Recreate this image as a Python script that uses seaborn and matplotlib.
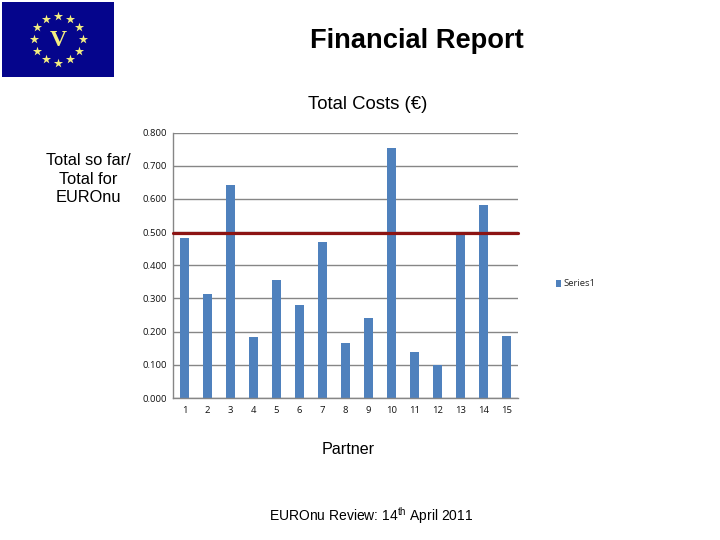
"""Financial report slide: total costs per partner, bar chart with logo and titles."""

import numpy as np
import pandas as pd
import matplotlib
matplotlib.use("Agg")
import matplotlib.pyplot as plt
import seaborn as sns

# ── Data ──────────────────────────────────────────────────────────────────────
PARTNERS = list(range(1, 16))
COSTS = [0.482, 0.313, 0.643, 0.184, 0.355, 0.280, 0.470, 0.165,
         0.240, 0.752, 0.138, 0.098, 0.495, 0.583, 0.187]
REFERENCE_LEVEL = 0.4965
Y_TICKS = [0.0, 0.1, 0.2, 0.3, 0.4, 0.5, 0.6, 0.7, 0.8]

# ── Theme ─────────────────────────────────────────────────────────────────────
BAR_CLR = "#4f81bd"
LINE_CLR = "#8c1414"
GRID_CLR = "#868686"
NAVY = "#05058c"
STAR_CLR = "#f4ee80"
W, H = 720, 540

sns.set_theme(style="white")
plt.rcParams["font.family"] = ["Liberation Sans", "DejaVu Sans"]
plt.rcParams["mathtext.fontset"] = "custom"
plt.rcParams["mathtext.rm"] = "Liberation Sans"

fig = plt.figure(figsize=(W / 100, H / 100), dpi=100, facecolor="white")


def px_axes(left, top, right, bottom):
    """Axes placed with pixel edges measured from the top-left corner."""
    return fig.add_axes([left / W, 1 - bottom / H, (right - left) / W, (bottom - top) / H])


# ── Logo ──────────────────────────────────────────────────────────────────────
logo = px_axes(2, 2, 114, 77)
logo.set_facecolor(NAVY)
logo.set_xlim(0, 112)
logo.set_ylim(75, 0)
logo.set_xticks([])
logo.set_yticks([])
for side in logo.spines.values():
    side.set_visible(False)
angles = np.deg2rad(np.arange(0, 360, 30))
logo.scatter(56 + 24.5 * np.cos(angles), 37 + 23.5 * np.sin(angles),
             marker="*", s=48, color=STAR_CLR, linewidths=0)
logo.text(56, 39, "V", color=STAR_CLR, fontsize=17, fontweight="bold", ha="center", va="center",
          family=["Liberation Serif", "DejaVu Serif"])

# ── Chart ─────────────────────────────────────────────────────────────────────
df = pd.DataFrame({"partner": PARTNERS, "cost": COSTS})
ax = px_axes(173, 132.5, 518, 398)
sns.barplot(data=df, x="partner", y="cost", color=BAR_CLR, saturation=1,
            width=0.43, label="Series1", ax=ax, zorder=2, edgecolor="none", linewidth=0)
ax.axhline(REFERENCE_LEVEL, color=LINE_CLR, lw=2.3, zorder=3, clip_on=False)

ax.set_xlim(-0.5, len(PARTNERS) - 0.5)
ax.set_ylim(0, 0.8)
ax.set_yticks(Y_TICKS)
ax.set_yticklabels([f"{v:.3f}" for v in Y_TICKS], family=["Open Sans", "DejaVu Sans"], fontsize=6.8)
ax.set_xlabel("")
ax.set_ylabel("")
ax.grid(axis="y", color=GRID_CLR, lw=1)
ax.set_axisbelow(True)
ax.set_xticks(np.arange(len(PARTNERS)))
ax.set_xticklabels(PARTNERS, family=["Open Sans", "DejaVu Sans"], fontsize=6.8)
ax.set_xticks(np.arange(len(PARTNERS) + 1) - 0.5, minor=True)
ax.tick_params(axis="x", which="major", length=0, pad=6, colors="#111111")
ax.tick_params(axis="x", which="minor", length=2.5, width=0.8, color=GRID_CLR)
ax.tick_params(axis="y", length=2.5, width=0.8, color=GRID_CLR, pad=2, labelcolor="#111111")

sns.despine(ax=ax, top=True, right=True)
for name in ("left", "bottom"):
    ax.spines[name].set_color(GRID_CLR)
    ax.spines[name].set_linewidth(1)

ax.legend(loc="center left", bbox_to_anchor=(555.5 / W, 1 - 284 / H),
          bbox_transform=fig.transFigure, frameon=False, handlelength=0.6,
          handleheight=0.75, handletextpad=0.2, borderpad=0, borderaxespad=0,
          prop={"family": ["Open Sans", "DejaVu Sans"], "size": 6.8})

# ── Slide text ────────────────────────────────────────────────────────────────


def slide_text(x, y, text, **kwargs):
    fig.text(x / W, 1 - y / H, text, ha="center", va="center", color="black", **kwargs)


slide_text(417, 40.5, "Financial Report", fontsize=19.6, fontweight="bold")
slide_text(368, 104, "Total Costs (€)", fontsize=13.3)
slide_text(88, 179, "Total so far/\nTotal for\nEUROnu", fontsize=11.8, linespacing=1.3)
slide_text(348, 449.5, "Partner", fontsize=11.6)
slide_text(371, 515.5, r"EUROnu Review: 14$^{\mathrm{th}}$ April 2011", fontsize=10)

fig.savefig("out.png", dpi=100, facecolor="white")
plt.close(fig)
